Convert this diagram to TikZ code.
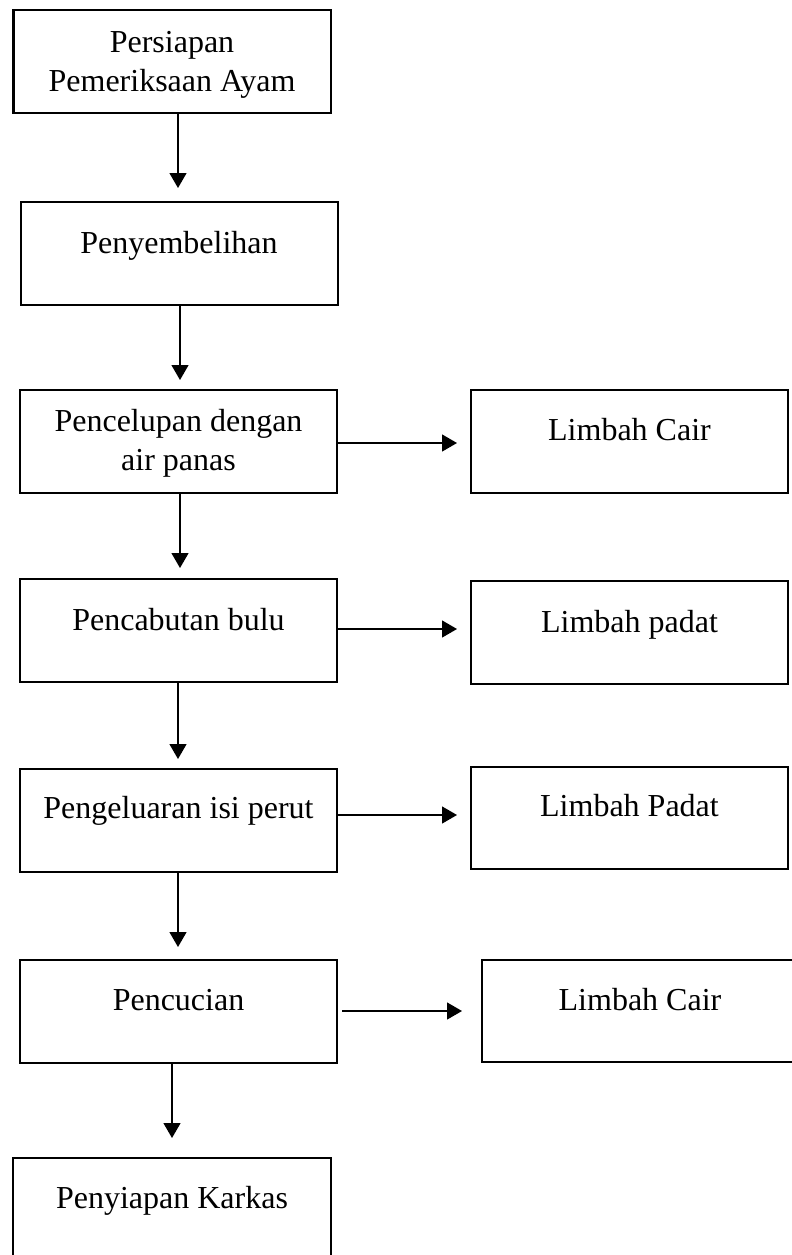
\documentclass[tikz,border=0pt]{standalone}
\usepackage{fontspec}
\setmainfont{Liberation Serif}
\usetikzlibrary{arrows.meta}
\begin{document}
\begin{tikzpicture}[x=1pt,y=-1pt,
  boxnode/.style={draw=black,line width=2.5pt,inner sep=0pt,outer sep=0pt,
    minimum width=317pt,minimum height=103pt},
  label/.style={anchor=base,inner sep=0pt,align=center,
    font=\fontsize{32}{38.5}\selectfont},
  arr/.style={line width=1.3pt,-{Triangle[length=15pt,width=17pt]}}]
\useasboundingbox (0,0) rectangle (792,1255);
\clip (0,0) rectangle (792,1255);
% boxes
\node[boxnode,minimum width=317.5pt] (b1) at (172.25,61.5) {};
\node[boxnode] (b2) at (179.35,253.5) {};
\node[boxnode] (b3) at (178.5,441.5) {};
\node[boxnode] (c1) at (629.5,441.5) {};
\node[boxnode] (b4) at (178.5,630.5) {};
\node[boxnode] (c2) at (629.5,632.5) {};
\node[boxnode] (b5) at (178.5,820.5) {};
\node[boxnode,minimum height=102pt] (c3) at (629.5,818) {};
\node[boxnode] (b6) at (178.5,1011.5) {};
\node[boxnode,minimum width=316pt,minimum height=102pt] (c4) at (640,1011) {};
\node[boxnode,minimum width=318pt] (b7) at (172,1209.5) {};
% texts (base = baseline of last line)
\node[label] (t1) at (172,91) {Persiapan\\Pemeriksaan Ayam};
\node[label] (t2) at (179,253) {Penyembelihan};
\node[label] (t3) at (178.5,470) {Pencelupan dengan\\air panas};
\node[label] (u1) at (629.5,440) {Limbah Cair};
\node[label] (t4) at (178.5,630) {Pencabutan bulu};
\node[label] (u2) at (629.5,632) {Limbah padat};
\node[label] (t5) at (178.5,818) {Pengeluaran isi perut};
\node[label] (u3) at (629.5,816) {Limbah Padat};
\node[label] (t6) at (178.5,1010) {Pencucian};
\node[label] (u4) at (640,1010) {Limbah Cair};
\node[label] (t7) at (172,1208) {Penyiapan Karkas};
% arrow tips
\coordinate (e1) at (178,188);
\coordinate (e2) at (180,380);
\coordinate (e3) at (180,568);
\coordinate (e4) at (178,759);
\coordinate (e5) at (178,947);
\coordinate (e6) at (172,1138);
\coordinate (f1) at (457,443);
\coordinate (f2) at (457,629);
\coordinate (f3) at (457,815);
\coordinate (f4) at (462,1011);
% vertical arrows
\draw[arr] (b1.south -| e1) -- (e1);
\draw[arr] (b2.south -| e2) -- (e2);
\draw[arr] (b3.south -| e3) -- (e3);
\draw[arr] (b4.south -| e4) -- (e4);
\draw[arr] (b5.south -| e5) -- (e5);
\draw[arr] (b6.south -| e6) -- (e6);
% horizontal arrows
\draw[arr] (b3.east |- f1) -- (f1);
\draw[arr] (b4.east |- f2) -- (f2);
\draw[arr] (b5.east |- f3) -- (f3);
\draw[arr] ([xshift=5pt]b6.east |- f4) -- (f4);
\end{tikzpicture}
\end{document}
